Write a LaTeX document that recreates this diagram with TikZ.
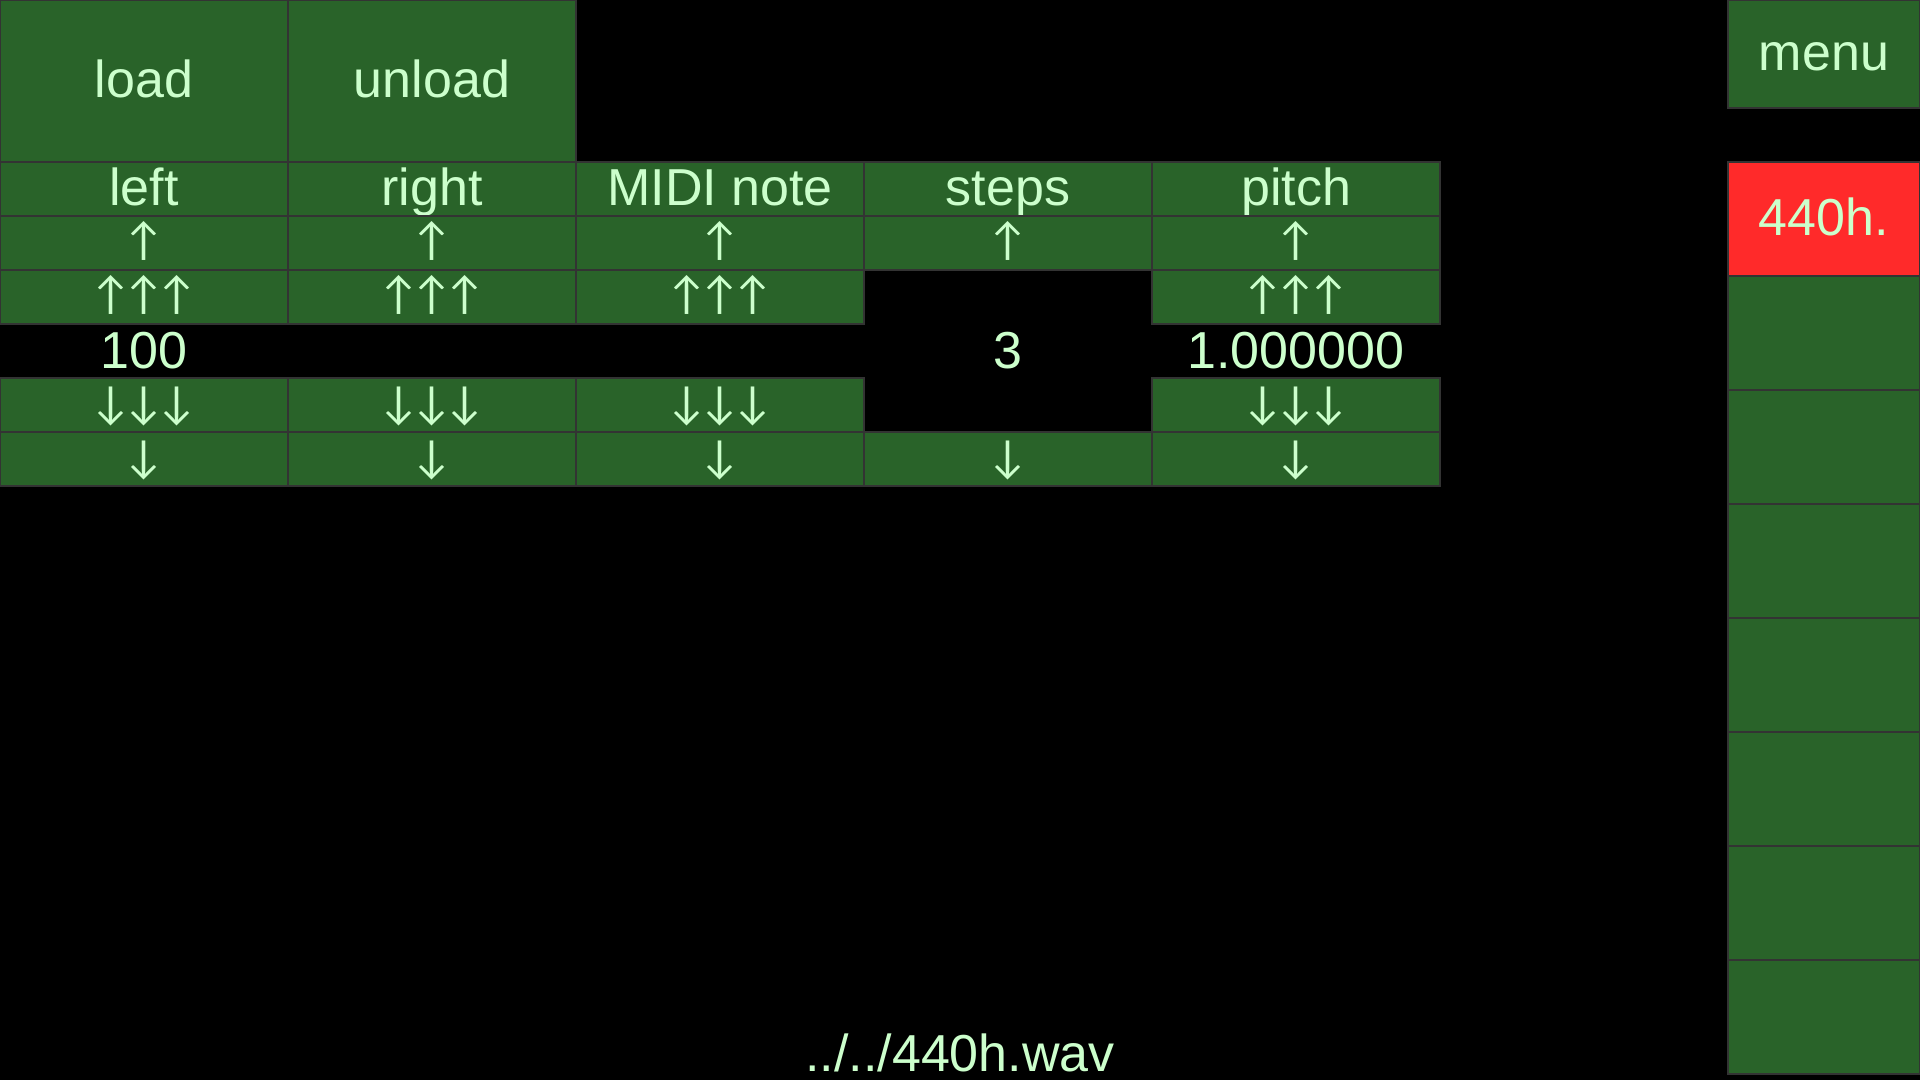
\documentclass[tikz,border=0pt]{standalone}
\usepackage{fontspec}
\setmainfont{Liberation Sans}
\newfontfamily\arrowfont{Lato}
\definecolor{cellgreen}{RGB}{41,99,41}
\definecolor{cellline}{RGB}{51,51,51}
\definecolor{labelgreen}{RGB}{204,255,204}
\definecolor{activered}{RGB}{255,42,42}

\begin{document}
\begin{tikzpicture}[x=0.5pt, y=-0.5pt,
      every node/.style = {inner sep=0pt, outer sep=0pt, text=labelgreen,
        font=\fontsize{26}{26}\selectfont, text height=19pt, text depth=2pt},
      cell/.style = {draw=cellline, line width=0.6pt, fill=cellgreen,
        anchor=north west, minimum width=144pt, minimum height=27pt},
      arrowcell/.style = {cell, font=\arrowfont\fontsize{22}{22}\selectfont,
        text height=17pt, text depth=4pt},
      button/.style = {cell, minimum height=81pt},
      side/.style = {cell, minimum width=96pt, minimum height=57pt},
      value/.style = {anchor=north west, minimum width=144pt, minimum height=27pt}]
    \fill[black] (0,0) rectangle (1920,1080);
    \useasboundingbox (0,0) rectangle (1920,1080);
    % top buttons
    \node[button] (load) at (0,0) {load};
    \node[button] (unload) at (288,0) {unload};
    % headers
    \node[cell] (left) at (0,162) {left};
    \node[cell] (right) at (288,162) {right};
    \node[cell] (midi) at (576,162) {MIDI note};
    \node[cell] (steps) at (864,162) {steps};
    \node[cell] (pitch) at (1152,162) {pitch};
    % one step up
    \node[arrowcell] (left up) at (0,216) {↑};
    \node[arrowcell] (right up) at (288,216) {↑};
    \node[arrowcell] (midi up) at (576,216) {↑};
    \node[arrowcell] (steps up) at (864,216) {↑};
    \node[arrowcell] (pitch up) at (1152,216) {↑};
    % big step up
    \node[arrowcell] (left upup) at (0,270) {↑↑↑};
    \node[arrowcell] (right upup) at (288,270) {↑↑↑};
    \node[arrowcell] (midi upup) at (576,270) {↑↑↑};
    \node[arrowcell] (pitch upup) at (1152,270) {↑↑↑};
    % values
    \node[value] (left value) at (0,324) {100};
    \node[value] (steps value) at (864,324) {3};
    \node[value] (pitch value) at (1152,324) {1.000000};
    % big step down
    \node[arrowcell] (left downdown) at (0,378) {↓↓↓};
    \node[arrowcell] (right downdown) at (288,378) {↓↓↓};
    \node[arrowcell] (midi downdown) at (576,378) {↓↓↓};
    \node[arrowcell] (pitch downdown) at (1152,378) {↓↓↓};
    % one step down
    \node[arrowcell] (left down) at (0,432) {↓};
    \node[arrowcell] (right down) at (288,432) {↓};
    \node[arrowcell] (midi down) at (576,432) {↓};
    \node[arrowcell] (steps down) at (864,432) {↓};
    \node[arrowcell] (pitch down) at (1152,432) {↓};
    % side bar
    \node[side, minimum height=54pt] (menu) at (1728,0) {menu};
    \node[side, fill=activered] (sample) at (1728,162) {440h.};
    \node[side] (slot 1) at (1728,276) {};
    \node[side] (slot 2) at (1728,390) {};
    \node[side] (slot 3) at (1728,504) {};
    \node[side] (slot 4) at (1728,618) {};
    \node[side] (slot 5) at (1728,732) {};
    \node[side] (slot 6) at (1728,846) {};
    \node[side] (slot 7) at (1728,960) {};
    % file name
    \node[anchor=base, text depth=0pt] (file) at (960,1071) {../../440h.wav};
  \end{tikzpicture}
\end{document}
